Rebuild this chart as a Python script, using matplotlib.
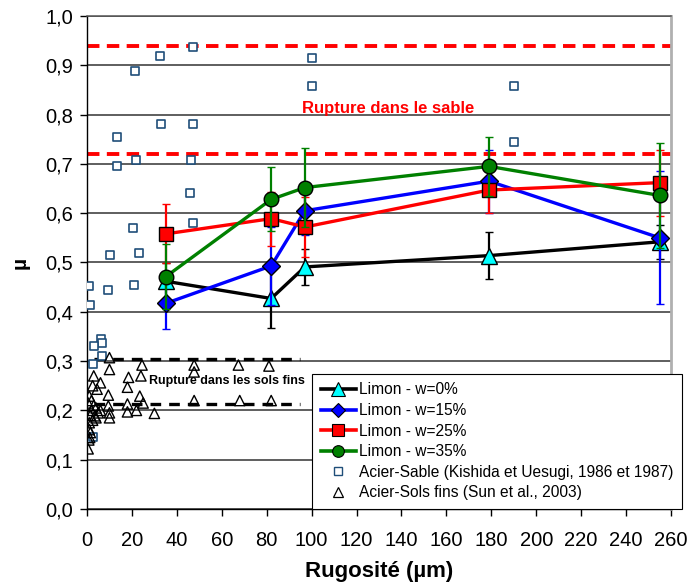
import matplotlib
matplotlib.use("Agg")
import matplotlib.pyplot as plt
from matplotlib.ticker import FuncFormatter, MultipleLocator
from matplotlib.lines import Line2D

plt.rcParams['font.family'] = ['Liberation Sans', 'DejaVu Sans']

# Limon series
limon_x = [35, 82, 97, 179, 255]
w0 = [0.462, 0.427, 0.491, 0.514, 0.542]
w0_err = [0.037, 0.060, 0.037, 0.047, 0.035]
w15 = [0.417, 0.493, 0.605, 0.665, 0.550]
w15_err = [0.051, 0.080, 0.050, 0.064, 0.135]
w25 = [0.558, 0.589, 0.572, 0.647, 0.662]
w25_err = [0.060, 0.055, 0.061, 0.046, 0.067]
w35 = [0.471, 0.628, 0.652, 0.695, 0.636]
w35_err = [0.066, 0.065, 0.080, 0.060, 0.106]

# Acier-Sable (Kishida et Uesugi)
sable_x = [47.4, 32.7, 21.5, 100, 100, 190, 190, 33, 47, 13.5, 22, 46.5, 13.5, 46,
           47, 20.6, 23, 10.4, 1, 9.2, 21, 1.5, 6.4, 6.7, 3, 6.5, 2.5, 2.5]
sable_y = [0.937, 0.918, 0.888, 0.915, 0.858, 0.857, 0.744, 0.780, 0.780, 0.754, 0.708,
           0.707, 0.695, 0.641, 0.580, 0.569, 0.520, 0.516, 0.452, 0.445, 0.455, 0.413,
           0.344, 0.336, 0.331, 0.310, 0.295, 0.146]

# Acier-Sols fins (Sun et al.)
fins_x = [10, 24.5, 47.7, 67.4, 81, 10, 47.7, 3, 18.5, 24, 6, 2.5, 18, 4.5, 9.5, 23.5,
          1, 47.7, 68, 82, 25, 18, 9.5, 18, 22, 30, 10, 10, 3.5, 1, 1, 0.8, 0.5, 1.5,
          2, 3, 4, 5, 1.5, 2.5, 0.5, 2, 6, 1.2, 4]
fins_y = [0.307, 0.292, 0.292, 0.292, 0.290, 0.283, 0.278, 0.270, 0.267, 0.270, 0.256,
          0.250, 0.247, 0.243, 0.231, 0.229, 0.229, 0.220, 0.220, 0.220, 0.215, 0.213,
          0.209, 0.197, 0.200, 0.194, 0.195, 0.185, 0.189, 0.175, 0.161, 0.140, 0.122,
          0.155, 0.200, 0.210, 0.205, 0.195, 0.190, 0.180, 0.215, 0.220, 0.200, 0.145,
          0.185]

# Reference rupture levels
sable_levels = [0.94, 0.72]
fins_levels = [0.305, 0.213]
fins_span = [3, 95]

fig = plt.figure(figsize=(6.9, 5.85), dpi=100)
ax = fig.add_axes([87/690, 1-509/585, (671-87)/690, (509-16)/585])

ax.set_xlim(0, 260)
ax.set_ylim(0, 1.0)
ax.yaxis.set_major_locator(MultipleLocator(0.1))
ax.xaxis.set_major_locator(MultipleLocator(20))
ax.yaxis.set_major_formatter(FuncFormatter(lambda v, p: f"{v:.1f}".replace('.', ',')))
ax.grid(axis='y', color='#333333', linewidth=1.1)
ax.set_axisbelow(True)
for s in ['left', 'bottom']:
    ax.spines[s].set_color('black')
    ax.spines[s].set_linewidth(1.0)
ax.spines['top'].set_color('#555555')
ax.spines['top'].set_linewidth(1.1)
ax.spines['right'].set_color('#B0B0B0')
ax.spines['right'].set_linewidth(2.0)
ax.tick_params(axis='both', direction='out', length=5, width=1, labelsize=14.5, colors='black')
ax.tick_params(axis='x', pad=11)
ax.tick_params(axis='y', pad=5)

for lv in sable_levels:
    ax.plot([0, 260], [lv, lv], color='red', lw=2.8, dashes=(3.2, 1.9), zorder=2)
for lv in fins_levels:
    ax.plot(fins_span, [lv, lv], color='black', lw=2.4, dashes=(3.2, 2.4), zorder=2)

ax.scatter(sable_x, sable_y, marker='s', s=36, facecolors='white', edgecolors='#1F4E79',
           linewidths=1.2, zorder=3)
ax.scatter(fins_x, fins_y, marker='^', s=55, facecolors='none', edgecolors='black',
           linewidths=1.0, zorder=3)

series = [
    (w0, w0_err, 'black', '^', 'cyan', 12, 'Limon - w=0%'),
    (w15, w15_err, '#0000FF', 'D', '#0000FF', 9, 'Limon - w=15%'),
    (w25, w25_err, 'red', 's', 'red', 10.5, 'Limon - w=25%'),
    (w35, w35_err, 'green', 'o', 'green', 10.5, 'Limon - w=35%'),
]
for i, (y, e, col, mk, fc, ms, lab) in enumerate(series):
    ax.errorbar(limon_x, y, yerr=e, color=col, lw=2.4, marker=mk, markersize=ms,
                markerfacecolor=fc, markeredgecolor='black', markeredgewidth=1.0,
                ecolor=col, elinewidth=1.6, capsize=3, capthick=1.6,
                zorder=5 + i)

ax.text(134, 0.812, 'Rupture dans le sable', color='red', fontsize=12,
        fontweight='bold', ha='center', va='center', zorder=4)
ax.text(27.5, 0.259, 'Rupture dans les sols fins', color='black', fontsize=9,
        fontweight='bold', ha='left', va='center', zorder=4)

ax.set_xlabel('Rugosité (µm)', fontsize=16, fontweight='bold', labelpad=8)
ax.set_ylabel('µ', fontsize=15, fontweight='bold', labelpad=11)

labels = ['Limon - w=0%', 'Limon - w=15%', 'Limon - w=25%', 'Limon - w=35%',
          'Acier-Sable (Kishida et Uesugi, 1986 et 1987)', 'Acier-Sols fins (Sun et al., 2003)']
leg_handles = []
for (y, e, col, mk, fc, ms, lab) in series:
    leg_handles.append(Line2D([], [], color=col, lw=2.6, marker=mk, markersize=ms * 0.8,
                              markerfacecolor=fc, markeredgecolor='black', markeredgewidth=0.8))
leg_handles.append(Line2D([], [], ls='none', marker='s', markersize=6, markerfacecolor='white',
                          markeredgecolor='#1F4E79', markeredgewidth=1.0))
leg_handles.append(Line2D([], [], ls='none', marker='^', markersize=7, markerfacecolor='none',
                          markeredgecolor='black', markeredgewidth=0.9))
leg = ax.legend(leg_handles, labels, loc='lower left',
                bbox_to_anchor=(312/690, 1-509/585), bbox_transform=fig.transFigure,
                fontsize=11.2, frameon=True, fancybox=False, framealpha=1,
                edgecolor='black', handlelength=2.3, handletextpad=0.2,
                labelspacing=0.36, borderpad=0.55, borderaxespad=0)
leg.get_frame().set_linewidth(0.8)
leg.set_zorder(20)

fig.savefig('out.png', dpi=100)
